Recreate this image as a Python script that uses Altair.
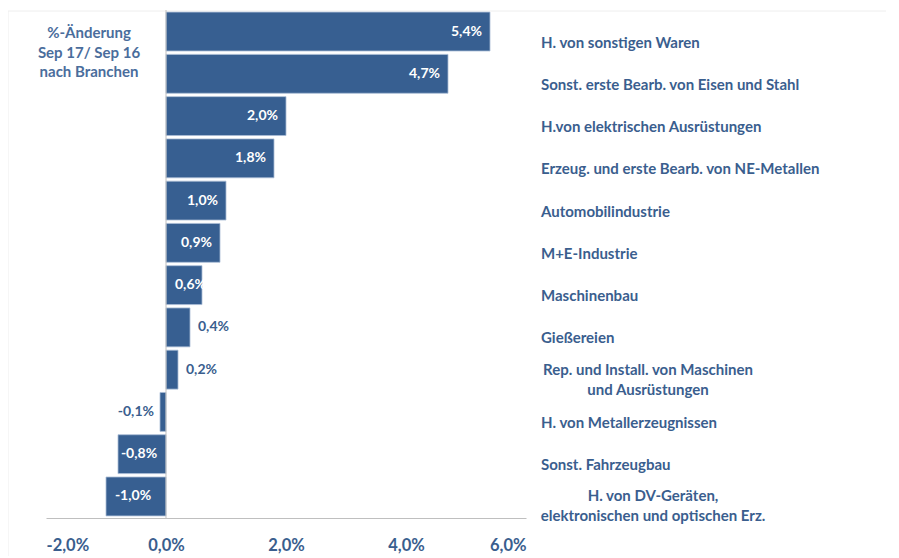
import altair as alt
import pandas as pd

categories = [
    "H. von sonstigen Waren",
    "Sonst. erste Bearb. von Eisen und Stahl",
    "H.von elektrischen Ausrüstungen",
    "Erzeug. und erste Bearb. von NE-Metallen",
    "Automobilindustrie",
    "M+E-Industrie",
    "Maschinenbau",
    "Gießereien",
    "Rep. und Install. von Maschinen\nund Ausrüstungen",
    "H. von Metallerzeugnissen",
    "Sonst. Fahrzeugbau",
    "H. von DV-Geräten,\nelektronischen und optischen Erz.",
]
values = [5.4, 4.7, 2.0, 1.8, 1.0, 0.9, 0.6, 0.4, 0.2, -0.1, -0.8, -1.0]
x_ticks = [-2, 0, 2, 4, 6]
title_lines = "%-Änderung\nSep 17/ Sep 16\nnach Branchen"

df = pd.DataFrame({
    "key": [f"c{i:02d}" for i in range(len(categories))],
    "cat": categories,
    "value": values,
})
df["label"] = [f"{v:.1f}".replace(".", ",") + "%" for v in values]
df["multi"] = ["\n" in c for c in categories]
order = list(df["key"])

FONT = "Lato"
BLUE = "#375F91"
TXT = "#3A5E8E"

base = alt.Chart(df)
xs = alt.Scale(domain=[-2, 6], nice=False, zero=False)
ys = alt.Scale(domain=order, paddingInner=0.08, paddingOuter=0.05)
Y = alt.Y("key:N", sort=order, scale=ys, axis=None)

bars = base.mark_bar(color=BLUE, stroke="#A9BCD6", strokeWidth=0.8).encode(
    x=alt.X("value:Q", scale=xs, title=None,
            axis=alt.Axis(values=x_ticks, ticks=False, grid=False,
                          domainColor="#BFBFBF", domainWidth=1,
                          labelFont=FONT, labelFontSize=16.5, labelFontWeight="bold",
                          labelColor=TXT, labelPadding=19, labelBaseline="top",
                          labelExpr="replace(replace(format(datum.value, '.1f'), '.', ','), '\u2212', '-') + '%'")),
    y=Y,
)

zero = alt.Chart(pd.DataFrame({"z": [0]})).mark_rule(color="#BFBFBF", strokeWidth=1).encode(
    x=alt.X("z:Q", scale=xs)
)

txt_kw = dict(font=FONT, fontSize=14, fontWeight="bold", baseline="middle")

in_pos = base.transform_filter("datum.value >= 0.75").mark_text(
    align="right", dx=-8, color="white", **txt_kw).encode(
    x=alt.X("value:Q", scale=xs), y=Y, text="label:N")

in_pos_small = base.transform_filter("datum.value >= 0.5 && datum.value < 0.75").transform_calculate(
    start="0").mark_text(
    align="left", dx=9, color="white", **txt_kw).encode(
    x=alt.X("start:Q", scale=xs), y=Y, text="label:N")

out_pos = base.transform_filter("datum.value > 0 && datum.value < 0.5").mark_text(
    align="left", dx=8, color=TXT, **txt_kw).encode(
    x=alt.X("value:Q", scale=xs), y=Y, text="label:N")

out_neg = base.transform_filter("datum.value < 0 && datum.value > -0.5").mark_text(
    align="right", dx=-6, color=TXT, **txt_kw).encode(
    x=alt.X("value:Q", scale=xs), y=Y, text="label:N")

in_neg = base.transform_filter("datum.value <= -0.5").transform_calculate(
    mid="datum.value / 2").mark_text(
    align="center", dx=-3, color="white", **txt_kw).encode(
    x=alt.X("mid:Q", scale=xs), y=Y, text="label:N")

lab_kw = dict(font=FONT, fontSize=15, fontWeight="bold", color=TXT, baseline="middle")

single = base.transform_filter("!datum.multi").mark_text(
    align="left", dy=11, **lab_kw).encode(
    x=alt.value(495), y=Y, text="cat:N")

multi1 = base.transform_filter(f"datum.key == '{order[8]}'").mark_text(
    align="center", lineBreak="\n", lineHeight=20, **lab_kw).encode(
    x=alt.value(602), y=Y, text="cat:N")

multi2 = base.transform_filter(f"datum.key == '{order[11]}'").mark_text(
    align="center", lineBreak="\n", lineHeight=20, **lab_kw).encode(
    x=alt.value(607), y=Y, text="cat:N")

title = alt.Chart(pd.DataFrame({"t": [title_lines]})).mark_text(
    align="center", baseline="top", lineBreak="\n", lineHeight=19.5,
    font=FONT, fontSize=15, fontWeight="bold", color="#4A6D9C").encode(
    x=alt.value(43), y=alt.value(16), text="t:N")

border_v = alt.Chart(pd.DataFrame({"a": [0]})).mark_rule(color="#EEEEEE").encode(
    x=alt.value(-38), y=alt.value(1), y2=alt.value(560))
border_h = alt.Chart(pd.DataFrame({"a": [0]})).mark_rule(color="#EEEEEE").encode(
    x=alt.value(-38), x2=alt.value(860), y=alt.value(1))

chart = alt.layer(
    border_v, border_h, bars, zero, in_pos, in_pos_small, out_pos, out_neg, in_neg,
    single, multi1, multi2, title
).properties(
    width=480, height=508,
    padding={"left": 38, "top": 2, "right": 360, "bottom": 38},
    autosize=alt.AutoSizeParams(type="none"),
    background="white",
).configure_view(stroke=None, strokeWidth=0)

chart.save("out.html", embed_options={"renderer": "svg", "actions": False})
